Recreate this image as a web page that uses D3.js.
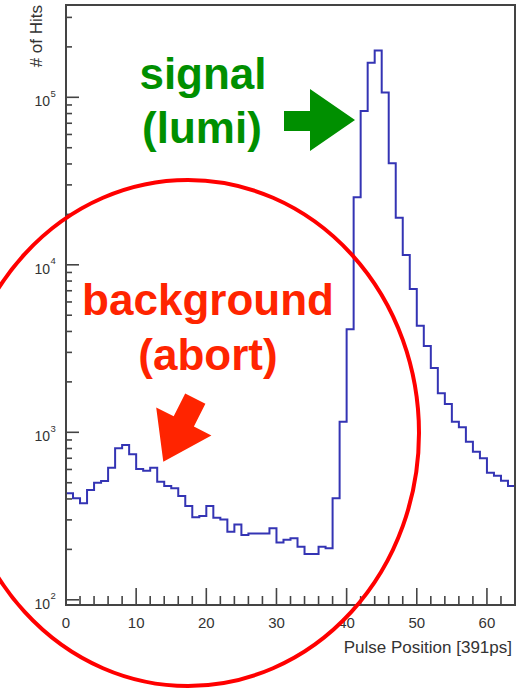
<!DOCTYPE html>
<html>
<head>
<meta charset="utf-8">
<script src="https://cdn.jsdelivr.net/npm/d3@7"></script>
<style>
  html, body { margin: 0; padding: 0; background: #ffffff; }
  svg { display: block; font-family: "Liberation Sans", Arial, Helvetica, sans-serif; }
</style>
</head>
<body>
<svg id="chart" width="521" height="688"></svg>
<script>
// ---- data ----
const counts = [432,404,377,453,500,512,615,803,840,739,
                604,590,615,507,478,463,417,363,311,316,
                363,309,302,255,282,244,249,249,249,267,
                220,228,233,207,188,188,207,203,404,1157,
                4120,25300,82800,161000,190000,107000,40400,19100,11440,7170,
                4330,3270,2420,1710,1475,1157,1071,879,766,700,
                574,551,514,478];
const xTickValues = [0, 10, 20, 30, 40, 50, 60];
const xTickLabels = ["0", "10", "20", "30", "40", "50", "60"];
const yTickValues = [100, 1000, 10000, 100000];
const yTickExponents = ["2", "3", "4", "5"];
const xDomain = [0, 64];
const yDomain = [93.1, 355700];
const xTitle = "Pulse Position [391ps]";
const yTitle = "# of Hits";
const signalLines = ["signal", "(lumi)"];
const backgroundLines = ["background", "(abort)"];

(function () {
// ---- layout ----
const svg = d3.select("#chart");
const pl = 66, pr = 515, pt = 5, pb = 605;
const x = d3.scaleLinear().domain(xDomain).range([pl, pr]);
const y = d3.scaleLog().domain(yDomain).range([pb, pt]);
const axisColor = "#444444";

// histogram step path
const path = d3.path();
counts.forEach((c, i) => {
  if (i === 0) path.moveTo(x(i), y(c));
  else path.lineTo(x(i), y(c));
  path.lineTo(x(i + 1), y(c));
});
svg.append("path")
  .attr("d", path.toString())
  .attr("fill", "none")
  .attr("stroke", "#3434b4")
  .attr("stroke-width", 2)
  .attr("stroke-linejoin", "miter");

// x axis ticks (major every 10, minor every 2)
const xMinor = d3.range(2, 64, 2).filter(v => v % 10 !== 0);
const gx = svg.append("g");
gx.selectAll("line.maj").data(xTickValues.filter(v => v > 0)).enter().append("line")
  .attr("x1", d => x(d)).attr("x2", d => x(d))
  .attr("y1", pb).attr("y2", pb - 17)
  .attr("stroke", axisColor).attr("stroke-width", 1.6);
gx.selectAll("line.min").data(xMinor).enter().append("line")
  .attr("x1", d => x(d)).attr("x2", d => x(d))
  .attr("y1", pb).attr("y2", pb - 9)
  .attr("stroke", axisColor).attr("stroke-width", 1.6);
gx.selectAll("text").data(xTickValues).enter().append("text")
  .attr("x", d => x(d)).attr("y", 628)
  .attr("text-anchor", "middle")
  .attr("font-size", 15).attr("fill", "#333")
  .text((d, i) => xTickLabels[i]);

// y axis ticks (log)
const yMinor = [];
[100, 1000, 10000, 100000].forEach(dec => {
  for (let k = 2; k <= 9; k++) {
    const v = dec * k;
    if (v >= yDomain[0] && v <= yDomain[1]) yMinor.push(v);
  }
});
const gy = svg.append("g");
gy.selectAll("line.maj").data(yTickValues).enter().append("line")
  .attr("x1", pl).attr("x2", pl + 13)
  .attr("y1", d => y(d)).attr("y2", d => y(d))
  .attr("stroke", axisColor).attr("stroke-width", 1.6);
gy.selectAll("line.min").data(yMinor).enter().append("line")
  .attr("x1", pl).attr("x2", pl + 6)
  .attr("y1", d => y(d)).attr("y2", d => y(d))
  .attr("stroke", axisColor).attr("stroke-width", 1.6);
const yl = gy.selectAll("g.lab").data(yTickValues).enter().append("g");
yl.append("text")
  .attr("x", 50).attr("y", d => y(d) + 9)
  .attr("text-anchor", "end")
  .attr("font-size", 14).attr("fill", "#333")
  .text("10");
yl.append("text")
  .attr("x", 50.5).attr("y", d => y(d) - 0.5)
  .attr("text-anchor", "start")
  .attr("font-size", 9.5).attr("fill", "#333")
  .text((d, i) => yTickExponents[i]);

// frame
svg.append("rect")
  .attr("x", pl).attr("y", pt)
  .attr("width", pr - pl).attr("height", pb - pt)
  .attr("fill", "none").attr("stroke", axisColor).attr("stroke-width", 2);

// axis titles
svg.append("text")
  .attr("x", 512).attr("y", 653)
  .attr("text-anchor", "end")
  .attr("font-size", 17).attr("fill", "#333")
  .text(xTitle);
svg.append("text")
  .attr("transform", "translate(42,5) rotate(-90)")
  .attr("text-anchor", "end")
  .attr("font-size", 17).attr("fill", "#333")
  .text(yTitle);

// ---- annotations ----
const green = "#008f00";
const orange = "#ff2400";
svg.append("text").attr("x", 203).attr("y", 89).attr("text-anchor", "middle")
  .attr("font-size", 44).attr("font-weight", "bold").attr("fill", green).text(signalLines[0]);
svg.append("text").attr("x", 202).attr("y", 143).attr("text-anchor", "middle")
  .attr("font-size", 44).attr("font-weight", "bold").attr("fill", green).text(signalLines[1]);
svg.append("polygon")
  .attr("points", "284,111 310,111 310,89 355,120 310,151 310,131 284,131")
  .attr("fill", green);

svg.append("text").attr("x", 208).attr("y", 315).attr("text-anchor", "middle")
  .attr("font-size", 44).attr("font-weight", "bold").attr("fill", orange).text(backgroundLines[0]);
svg.append("text").attr("x", 208).attr("y", 370).attr("text-anchor", "middle")
  .attr("font-size", 44).attr("font-weight", "bold").attr("fill", orange).text(backgroundLines[1]);
svg.append("polygon")
  .attr("points", "185.2,393.6 205.4,403.8 193.9,426.5 211.4,435.4 163.3,461.8 156.2,407.4 173.7,416.3")
  .attr("fill", orange);

svg.append("ellipse")
  .attr("cx", 188).attr("cy", 433).attr("rx", 231).attr("ry", 253)
  .attr("fill", "none").attr("stroke", "#ff0000").attr("stroke-width", 4);
})();
</script>
</body>
</html>
